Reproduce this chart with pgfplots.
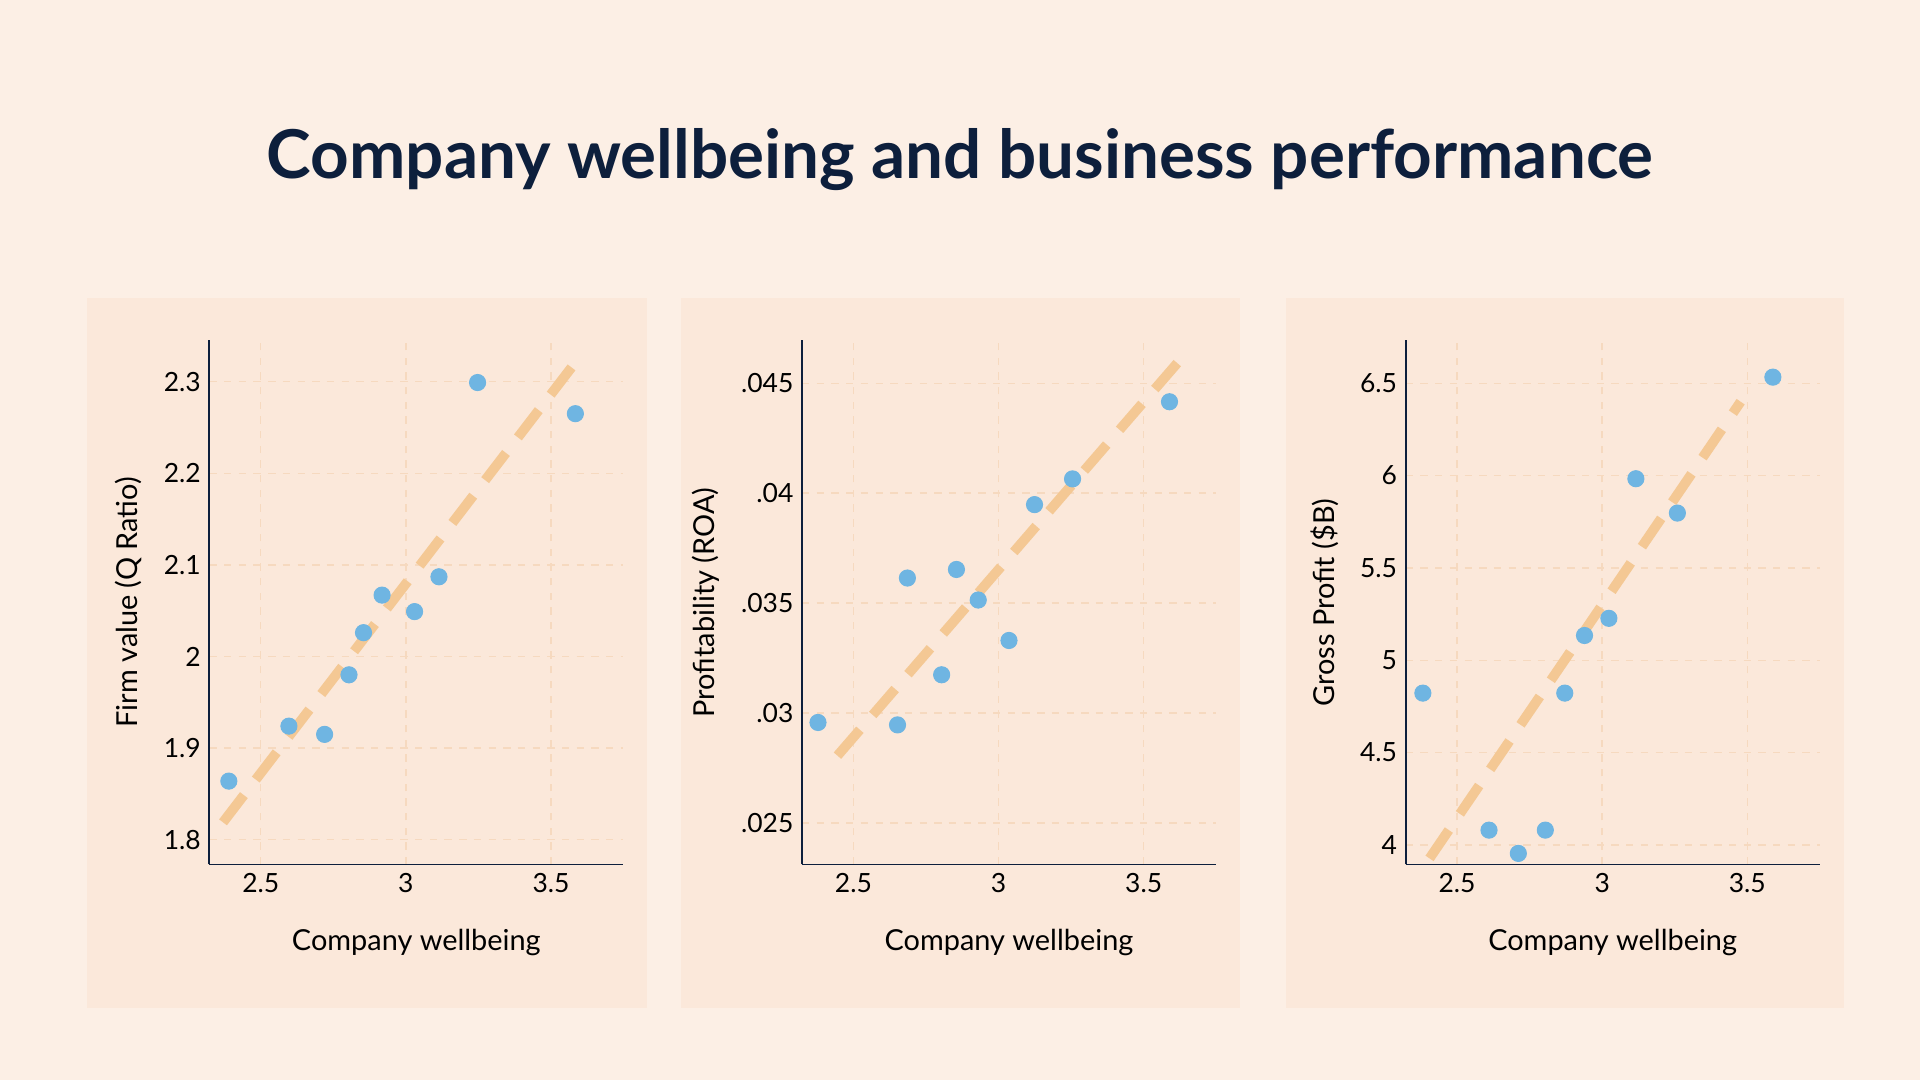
\documentclass[border=0pt]{standalone}
\usepackage{pgfplots}
\pgfplotsset{compat=1.18}
\usepackage{fontspec}
\setmainfont{Lato}
\definecolor{pagebg}{HTML}{FCEFE5}
\definecolor{panelbg}{HTML}{FBE8DA}
\definecolor{navy}{HTML}{0D1F3C}
\definecolor{dot}{HTML}{6FB5E2}
\definecolor{trend}{HTML}{F4C894}
\definecolor{gridc}{HTML}{F6D9BF}
\pgfplotsset{
  panel/.style={
    scale only axis, width=169pt, height=214pt, anchor=south west,
    axis lines=left, axis line style={-, navy, line width=0.8pt},
    major tick length=0pt, grid=major,
    major grid style={gridc, dashed, line width=0.6pt},
    tick label style={font=\fontsize{10.8}{12}\selectfont, text=black},
    label style={font=\fontsize{11.8}{13}\selectfont, text=black},
    /pgf/number format/assume math mode=true,
    scaled y ticks=false,
    xmin=2.323, xmax=3.749, xtick={2.5,3,3.5},
    xlabel={Company wellbeing},
    xlabel style={yshift=-8pt},
    ylabel style={yshift=2pt},
    clip=false,
  },
  dots/.style={only marks, mark=*, mark size=3.3pt, dot, mark options={draw=none, fill=dot}},
  tl/.style={no marks, trend, line width=4pt, dash pattern=on 14pt off 8pt},
}
\begin{document}
\begin{tikzpicture}
\fill[pagebg] (0,0) rectangle (784pt,441pt);
\fill[panelbg] (35.5pt,29.5pt) rectangle (264pt,319.5pt);
\fill[panelbg] (278pt,29.5pt) rectangle (506.5pt,319.5pt);
\fill[panelbg] (525pt,29.5pt) rectangle (753pt,319.5pt);
\node[font=\fontsize{27.5}{32}\selectfont\bfseries, text=navy] at (392pt,376pt) {Company wellbeing and business performance};

\begin{axis}[panel, at={(85.5pt,88pt)}, ymin=1.773, ymax=2.345,
  ytick={1.8,1.9,2,2.1,2.2,2.3}, ylabel={Firm value (Q Ratio)}]
\addplot[tl] coordinates {(2.37,1.819) (3.584,2.321)};
\addplot[dots] coordinates {(2.39,1.864) (2.597,1.924) (2.72,1.915) (2.804,1.980) (2.854,2.026) (2.918,2.067) (3.03,2.049) (3.114,2.087) (3.247,2.299) (3.584,2.265)};
\end{axis}

\begin{axis}[panel, at={(327.5pt,88pt)}, ymin=0.02311, ymax=0.04695,
  ytick={0.025,0.03,0.035,0.04,0.045}, yticklabels={.025,.03,.035,.04,.045},
  ylabel={Profitability (ROA)}]
\addplot[tl] coordinates {(2.445,0.02806) (3.618,0.04595)};
\addplot[dots] coordinates {(2.378,0.02957) (2.652,0.02946) (2.686,0.03614) (2.804,0.03174) (2.855,0.03653) (2.93,0.03514) (3.036,0.0333) (3.124,0.03948) (3.255,0.04065) (3.589,0.04416)};
\end{axis}

\begin{axis}[panel, at={(574pt,88pt)}, ymin=3.894, ymax=6.732,
  ytick={4,4.5,5,5.5,6,6.5}, ylabel={Gross Profit (\$B)}]
\addplot[tl] coordinates {(2.405,3.927) (3.477,6.4)};
\addplot[dots] coordinates {(2.382,4.822) (2.61,4.08) (2.711,3.954) (2.804,4.08) (2.871,4.822) (2.939,5.134) (3.023,5.227) (3.116,5.983) (3.259,5.797) (3.588,6.533)};
\end{axis}
\end{tikzpicture}
\end{document}
